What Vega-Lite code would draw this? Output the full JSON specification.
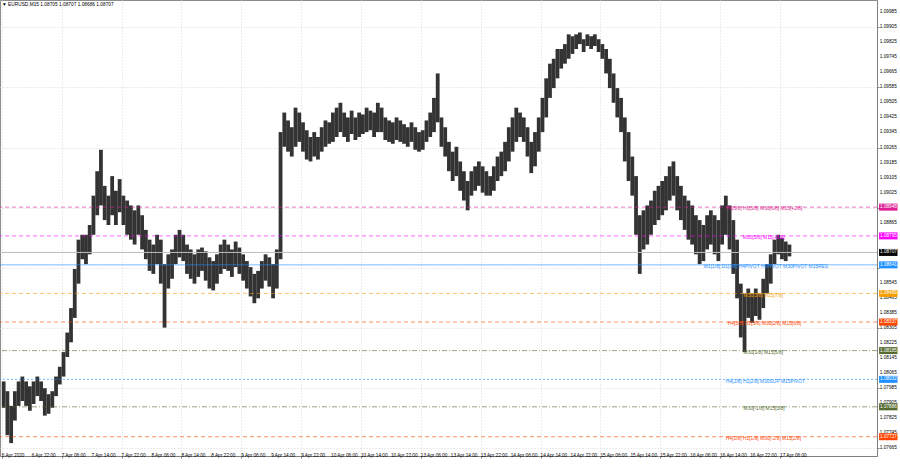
{
"$schema": "https://vega.github.io/schema/vega-lite/v6.json",
"width": 877, "height": 456,
"autosize": {"type": "none"},
"padding": {"left": 0, "top": 0, "right": 23, "bottom": 14},
"background": "#ffffff",
"title": {"text": "▼ EURUSD,M15  1.08705 1.08707 1.08686 1.08707", "anchor": "start", "frame": "group", "fontSize": 4.8, "fontWeight": "normal", "font": "Liberation Sans", "color": "#000000", "offset": 0, "dy": 7, "dx": 2},
"config": {"view": {"stroke": "#8c8c8c", "strokeWidth": 1}, "font": "Liberation Sans"},
"datasets": {
"bars": [
{"n":2,"h":1.08021,"l":1.07881},{"n":6,"h":1.07969,"l":1.07735},{"n":10,"h":1.07891,"l":1.07693},{"n":14,"h":1.07969,"l":1.07813},{"n":18,"h":1.08021,"l":1.07891},{"n":22,"h":1.08047,"l":1.07917},{"n":26,"h":1.08021,"l":1.07891},{"n":30,"h":1.07995,"l":1.07865},{"n":34,"h":1.08021,"l":1.07901},{"n":38,"h":1.08047,"l":1.07943},
{"n":42,"h":1.08021,"l":1.07917},{"n":46,"h":1.07985,"l":1.07839},{"n":50,"h":1.07953,"l":1.07849},{"n":54,"h":1.07969,"l":1.07881},{"n":58,"h":1.08047,"l":1.07943},{"n":62,"h":1.08099,"l":1.08005},{"n":66,"h":1.08177,"l":1.08047},{"n":70,"h":1.08281,"l":1.08151},{"n":74,"h":1.08411,"l":1.08229},{"n":78,"h":1.08619,"l":1.08359},
{"n":82,"h":1.08775,"l":1.08541},{"n":86,"h":1.08801,"l":1.08671},{"n":90,"h":1.08801,"l":1.08645},{"n":94,"h":1.08853,"l":1.08697},{"n":98,"h":1.09009,"l":1.08801},{"n":102,"h":1.09139,"l":1.08905},{"n":106,"h":1.09253,"l":1.08957},{"n":110,"h":1.09061,"l":1.08879},{"n":114,"h":1.09009,"l":1.08853},{"n":118,"h":1.09113,"l":1.08905},
{"n":122,"h":1.09035,"l":1.08853},{"n":126,"h":1.09097,"l":1.08921},{"n":130,"h":1.09009,"l":1.08853},{"n":134,"h":1.08983,"l":1.08801},{"n":138,"h":1.08957,"l":1.08775},{"n":142,"h":1.08931,"l":1.08749},{"n":146,"h":1.08957,"l":1.08801},{"n":150,"h":1.08905,"l":1.08723},{"n":154,"h":1.08827,"l":1.08671},{"n":158,"h":1.08775,"l":1.08609},
{"n":162,"h":1.08749,"l":1.08593},{"n":166,"h":1.08801,"l":1.08645},{"n":170,"h":1.08775,"l":1.08541},{"n":174,"h":1.08645,"l":1.08307},{"n":178,"h":1.08697,"l":1.08515},{"n":182,"h":1.08723,"l":1.08567},{"n":186,"h":1.08801,"l":1.08645},{"n":190,"h":1.08827,"l":1.08681},{"n":194,"h":1.08801,"l":1.08661},{"n":198,"h":1.08749,"l":1.08593},
{"n":202,"h":1.08723,"l":1.08567},{"n":206,"h":1.08697,"l":1.08541},{"n":210,"h":1.08723,"l":1.08577},{"n":214,"h":1.08733,"l":1.08609},{"n":218,"h":1.08713,"l":1.08557},{"n":222,"h":1.08681,"l":1.08515},{"n":226,"h":1.08661,"l":1.08505},{"n":230,"h":1.08697,"l":1.08541},{"n":234,"h":1.08749,"l":1.08593},{"n":238,"h":1.08775,"l":1.08619},
{"n":242,"h":1.08749,"l":1.08609},{"n":246,"h":1.08723,"l":1.08577},{"n":250,"h":1.08765,"l":1.08629},{"n":254,"h":1.08733,"l":1.08593},{"n":258,"h":1.08697,"l":1.08557},{"n":262,"h":1.08661,"l":1.08515},{"n":266,"h":1.08629,"l":1.08473},{"n":270,"h":1.08593,"l":1.08437},{"n":274,"h":1.08609,"l":1.08463},{"n":278,"h":1.08661,"l":1.08515},
{"n":282,"h":1.08697,"l":1.08557},{"n":286,"h":1.08681,"l":1.08525},{"n":290,"h":1.08645,"l":1.08463},{"n":294,"h":1.08723,"l":1.08515},{"n":298,"h":1.09347,"l":1.08671},{"n":302,"h":1.09451,"l":1.09269},{"n":306,"h":1.09409,"l":1.09243},{"n":310,"h":1.09373,"l":1.09217},{"n":314,"h":1.09477,"l":1.09269},{"n":318,"h":1.09451,"l":1.09295},
{"n":322,"h":1.09399,"l":1.09243},{"n":326,"h":1.09357,"l":1.09201},{"n":330,"h":1.09321,"l":1.09191},{"n":334,"h":1.09347,"l":1.09217},{"n":338,"h":1.09321,"l":1.09201},{"n":342,"h":1.09373,"l":1.09243},{"n":346,"h":1.09409,"l":1.09269},{"n":350,"h":1.09399,"l":1.09285},{"n":354,"h":1.09451,"l":1.09295},{"n":358,"h":1.09477,"l":1.09321},
{"n":362,"h":1.09503,"l":1.09347},{"n":366,"h":1.09451,"l":1.09321},{"n":370,"h":1.09425,"l":1.09295},{"n":374,"h":1.09461,"l":1.09337},{"n":378,"h":1.09425,"l":1.09305},{"n":382,"h":1.09451,"l":1.09321},{"n":386,"h":1.09441,"l":1.09337},{"n":390,"h":1.09477,"l":1.09347},{"n":394,"h":1.09461,"l":1.09357},{"n":398,"h":1.09451,"l":1.09321},
{"n":402,"h":1.09503,"l":1.09347},{"n":406,"h":1.09477,"l":1.09347},{"n":410,"h":1.09425,"l":1.09305},{"n":414,"h":1.09409,"l":1.09295},{"n":418,"h":1.09399,"l":1.09285},{"n":422,"h":1.09425,"l":1.09305},{"n":426,"h":1.09409,"l":1.09295},{"n":430,"h":1.09389,"l":1.09285},{"n":434,"h":1.09373,"l":1.09269},{"n":438,"h":1.09399,"l":1.09295},
{"n":442,"h":1.09373,"l":1.09253},{"n":446,"h":1.09347,"l":1.09243},{"n":450,"h":1.09357,"l":1.09253},{"n":454,"h":1.09409,"l":1.09295},{"n":458,"h":1.09451,"l":1.09321},{"n":462,"h":1.09529,"l":1.09347},{"n":466,"h":1.09659,"l":1.09399},{"n":470,"h":1.09425,"l":1.09269},{"n":474,"h":1.09373,"l":1.09217},{"n":478,"h":1.09295,"l":1.09139},
{"n":482,"h":1.09243,"l":1.09087},{"n":486,"h":1.09269,"l":1.09113},{"n":490,"h":1.09191,"l":1.09035},{"n":494,"h":1.09139,"l":1.08983},{"n":498,"h":1.09087,"l":1.08931},{"n":502,"h":1.09139,"l":1.09009},{"n":506,"h":1.09165,"l":1.09035},{"n":510,"h":1.09191,"l":1.09061},{"n":514,"h":1.09165,"l":1.09025},{"n":518,"h":1.09139,"l":1.09009},
{"n":522,"h":1.09113,"l":1.09009},{"n":526,"h":1.09165,"l":1.09035},{"n":530,"h":1.09217,"l":1.09087},{"n":534,"h":1.09243,"l":1.09113},{"n":538,"h":1.09295,"l":1.09139},{"n":542,"h":1.09373,"l":1.09191},{"n":546,"h":1.09425,"l":1.09243},{"n":550,"h":1.09477,"l":1.09295},{"n":554,"h":1.09451,"l":1.09321},{"n":558,"h":1.09425,"l":1.09295},
{"n":562,"h":1.09373,"l":1.09217},{"n":566,"h":1.09295,"l":1.09129},{"n":570,"h":1.09347,"l":1.09165},{"n":574,"h":1.09425,"l":1.09243},{"n":578,"h":1.09529,"l":1.09347},{"n":582,"h":1.09633,"l":1.09425},{"n":586,"h":1.09711,"l":1.09529},{"n":590,"h":1.09737,"l":1.09581},{"n":594,"h":1.09789,"l":1.09633},{"n":598,"h":1.09789,"l":1.09685},
{"n":602,"h":1.09815,"l":1.09711},{"n":606,"h":1.09867,"l":1.09737},{"n":610,"h":1.09857,"l":1.09763},{"n":614,"h":1.09867,"l":1.09789},{"n":618,"h":1.09877,"l":1.09815},{"n":622,"h":1.09841,"l":1.09773},{"n":626,"h":1.09867,"l":1.09805},{"n":630,"h":1.09857,"l":1.09789},{"n":634,"h":1.09867,"l":1.09805},{"n":638,"h":1.09841,"l":1.09773},
{"n":642,"h":1.09815,"l":1.09737},{"n":646,"h":1.09789,"l":1.09659},{"n":650,"h":1.09737,"l":1.09581},{"n":654,"h":1.09659,"l":1.09503},{"n":658,"h":1.09581,"l":1.09425},{"n":662,"h":1.09529,"l":1.09347},{"n":666,"h":1.09425,"l":1.09191},{"n":670,"h":1.09347,"l":1.09087},{"n":674,"h":1.09217,"l":1.09009},{"n":678,"h":1.09113,"l":1.08801},
{"n":682,"h":1.08905,"l":1.08593},{"n":686,"h":1.08931,"l":1.08723},{"n":690,"h":1.08957,"l":1.08749},{"n":694,"h":1.08983,"l":1.08801},{"n":698,"h":1.09035,"l":1.08853},{"n":702,"h":1.09061,"l":1.08879},{"n":706,"h":1.09087,"l":1.08905},{"n":710,"h":1.09113,"l":1.08931},{"n":714,"h":1.09165,"l":1.08983},{"n":718,"h":1.09191,"l":1.09009},
{"n":722,"h":1.09113,"l":1.08931},{"n":726,"h":1.09061,"l":1.08879},{"n":730,"h":1.09009,"l":1.08827},{"n":734,"h":1.08983,"l":1.08775},{"n":738,"h":1.08957,"l":1.08749},{"n":742,"h":1.08905,"l":1.08697},{"n":746,"h":1.08879,"l":1.08645},{"n":750,"h":1.08853,"l":1.08661},{"n":754,"h":1.08905,"l":1.08723},{"n":758,"h":1.08931,"l":1.08749},
{"n":762,"h":1.08905,"l":1.08697},{"n":766,"h":1.08879,"l":1.08661},{"n":770,"h":1.08957,"l":1.08749},{"n":774,"h":1.09009,"l":1.08801},{"n":778,"h":1.08957,"l":1.08723},{"n":782,"h":1.08879,"l":1.08593},{"n":786,"h":1.08775,"l":1.08463},{"n":790,"h":1.08541,"l":1.08255},{"n":794,"h":1.08489,"l":1.08177},{"n":798,"h":1.08515,"l":1.08359},
{"n":802,"h":1.08489,"l":1.08333},{"n":806,"h":1.08515,"l":1.08369},{"n":810,"h":1.08489,"l":1.08349},{"n":814,"h":1.08567,"l":1.08411},{"n":818,"h":1.08645,"l":1.08489},{"n":822,"h":1.08697,"l":1.08541},{"n":826,"h":1.08775,"l":1.08645},{"n":830,"h":1.08801,"l":1.08697},{"n":834,"h":1.08785,"l":1.08671},{"n":838,"h":1.08765,"l":1.08661},
{"n":842,"h":1.08749,"l":1.08686}
],
"levels": [
{"lvl":"L1","p":1.08948,"a":774,"lab":"H4[5/8] H1[5/8] M30[6/8] M15[+2/8]"},
{"lvl":"L2","p":1.08795,"a":792,"lab":"M30[5/8] M15[+1/8]"},
{"lvl":"L3","p":1.08641,"a":750,"lab":"W1[1/8] D1[1/8] H4PIVOT H1PIVOT M30PIVOT M15RES"},
{"lvl":"L4","p":1.08489,"a":793,"lab":"M30[3/8] M15[7/8]"},
{"lvl":"L5","p":1.08337,"a":776,"lab":"H4[3/8] H1[3/8] M30[2/8] M15[6/8]"},
{"lvl":"L6","p":1.08185,"a":793,"lab":"M30[1/8] M15[5/8]"},
{"lvl":"L7","p":1.08032,"a":774,"lab":"H4[2/8] H1[2/8] M30SUP M15PIVOT"},
{"lvl":"L8","p":1.07886,"a":793,"lab":"M30[-1/8] M15[3/8]"},
{"lvl":"L9","p":1.07727,"a":774,"lab":"H4[1/8] H1[1/8] M30[-2/8] M15[2/8]"}
],
"bid": [{"p":1.08707}],
"xt": [
{"n":0,"lab":"6 Apr 2020"},{"n":32,"lab":"6 Apr 22:00"},{"n":64,"lab":"7 Apr 06:00"},{"n":96,"lab":"7 Apr 14:00"},{"n":128,"lab":"7 Apr 22:00"},{"n":160,"lab":"8 Apr 06:00"},{"n":192,"lab":"8 Apr 14:00"},{"n":224,"lab":"8 Apr 22:00"},{"n":256,"lab":"9 Apr 06:00"},{"n":288,"lab":"9 Apr 14:00"},
{"n":320,"lab":"9 Apr 22:00"},{"n":352,"lab":"10 Apr 06:00"},{"n":384,"lab":"10 Apr 14:00"},{"n":416,"lab":"10 Apr 22:00"},{"n":448,"lab":"13 Apr 06:00"},{"n":480,"lab":"13 Apr 14:00"},{"n":512,"lab":"13 Apr 22:00"},{"n":544,"lab":"14 Apr 06:00"},{"n":576,"lab":"14 Apr 14:00"},{"n":608,"lab":"14 Apr 22:00"},
{"n":640,"lab":"15 Apr 06:00"},{"n":672,"lab":"15 Apr 14:00"},{"n":704,"lab":"15 Apr 22:00"},{"n":736,"lab":"16 Apr 06:00"},{"n":768,"lab":"16 Apr 14:00"},{"n":800,"lab":"16 Apr 22:00"},{"n":832,"lab":"17 Apr 06:00"}
],
"yt": [
{"v":1.07665},{"v":1.07745},{"v":1.07825},{"v":1.07905},{"v":1.07985},{"v":1.08065},{"v":1.08145},{"v":1.08225},{"v":1.08305},{"v":1.08385},{"v":1.08465},{"v":1.08545},
{"v":1.08865},{"v":1.09025},{"v":1.09105},{"v":1.09185},{"v":1.09265},{"v":1.09345},{"v":1.09425},{"v":1.09505},{"v":1.09585},{"v":1.09665},{"v":1.09745},{"v":1.09825},{"v":1.09905},{"v":1.09985}
]
},
"layer": [
{"data": {"name": "bars"}, "mark": {"type": "rule", "color": "#333333", "strokeWidth": 3.8},
 "encoding": {
  "x": {"field": "n", "type": "quantitative", "title": null,
   "scale": {"domain": [-1.9, 935.6], "nice": false, "zero": false},
   "axis": {"values": [0,32,64,96,128,160,192,224,256,288,320,352,384,416,448,480,512,544,576,608,640,672,704,736,768,800,832],
    "labels": false, "tickSize": 2, "tickColor": "#808080", "domainColor": "#808080",
    "grid": true, "gridColor": "#d9d9d9", "gridDash": [1, 2]}},
  "y": {"field": "l", "type": "quantitative", "title": null,
   "scale": {"domain": [1.07651, 1.10023], "nice": false, "zero": false},
   "axis": {"orient": "right", "values": [1.07665,1.07745,1.07825,1.07905,1.07985,1.08065,1.08145,1.08225,1.08305,1.08385,1.08465,1.08545,1.08625,1.08705,1.08785,1.08865,1.08945,1.09025,1.09105,1.09185,1.09265,1.09345,1.09425,1.09505,1.09585,1.09665,1.09745,1.09825,1.09905,1.09985],
    "labels": false, "tickSize": 2, "tickColor": "#808080", "domainColor": "#808080",
    "grid": true, "gridColor": "#d9d9d9", "gridDash": [1, 2]}},
  "y2": {"field": "h"}
 }},
{"data": {"name": "xt"}, "mark": {"type": "text", "align": "left", "baseline": "top", "fontSize": 4.7, "color": "#000000", "font": "Liberation Sans"},
 "encoding": {
  "x": {"field": "n", "type": "quantitative", "title": null, "scale": {"domain": [-1.9, 935.6], "nice": false, "zero": false}},
  "y": {"datum": 1.07641, "type": "quantitative", "scale": {"domain": [1.07651, 1.10023], "nice": false, "zero": false}},
  "text": {"field": "lab"}
 }},
{"data": {"name": "yt"}, "mark": {"type": "text", "align": "left", "baseline": "middle", "fontSize": 4.7, "color": "#000000", "font": "Liberation Sans"},
 "encoding": {
  "x": {"datum": 938.6, "type": "quantitative", "scale": {"domain": [-1.9, 935.6], "nice": false, "zero": false}},
  "y": {"field": "v", "type": "quantitative", "title": null, "scale": {"domain": [1.07651, 1.10023], "nice": false, "zero": false}},
  "text": {"field": "v", "type": "quantitative", "format": ".5f"}
 }},
{"data": {"name": "bid"}, "mark": {"type": "rule", "color": "#bdbdbd", "strokeWidth": 1},
 "encoding": {"y": {"field": "p", "type": "quantitative", "title": null, "scale": {"domain": [1.07651, 1.10023], "nice": false, "zero": false}}}},
{"data": {"name": "levels"}, "mark": {"type": "rule", "strokeWidth": 1, "opacity": 0.6},
 "encoding": {
  "y": {"field": "p", "type": "quantitative", "title": null, "scale": {"domain": [1.07651, 1.10023], "nice": false, "zero": false}},
  "color": {"field": "lvl", "type": "nominal", "legend": null, "scale": {"domain": ["L1","L2","L3","L4","L5","L6","L7","L8","L9"], "range": ["#de1f93","#ff00ff","#1e90ff","#f5a000","#ff4500","#556b2f","#1e90ff","#556b2f","#ff4500"]}},
  "strokeDash": {"field": "lvl", "type": "nominal", "legend": null, "scale": {"domain": ["L1","L2","L3","L4","L5","L6","L7","L8","L9"], "range": [[4,3],[4,3],[1,0],[4,3],[4,3],[5,2,1,2],[2,2],[5,2,1,2],[4,3]]}}
 }},
{"data": {"name": "levels"}, "mark": {"type": "text", "align": "left", "baseline": "middle", "dy": 2.2, "fontSize": 4.9, "font": "Liberation Sans"},
 "encoding": {
  "x": {"field": "a", "type": "quantitative", "title": null, "scale": {"domain": [-1.9, 935.6], "nice": false, "zero": false}},
  "y": {"field": "p", "type": "quantitative", "title": null, "scale": {"domain": [1.07651, 1.10023], "nice": false, "zero": false}},
  "text": {"field": "lab"},
  "color": {"field": "lvl", "type": "nominal", "legend": null, "scale": {"domain": ["L1","L2","L3","L4","L5","L6","L7","L8","L9"], "range": ["#de1f93","#ff00ff","#1e90ff","#f5a000","#ff4500","#556b2f","#1e90ff","#556b2f","#ff4500"]}}
 }},
{"data": {"name": "levels"}, "mark": {"type": "bar", "size": 7},
 "encoding": {
  "x": {"datum": 937.8, "type": "quantitative", "scale": {"domain": [-1.9, 935.6], "nice": false, "zero": false}},
  "x2": {"datum": 957.5},
  "y": {"field": "p", "type": "quantitative", "title": null, "scale": {"domain": [1.07651, 1.10023], "nice": false, "zero": false}},
  "color": {"field": "lvl", "type": "nominal", "legend": null, "scale": {"domain": ["L1","L2","L3","L4","L5","L6","L7","L8","L9"], "range": ["#de1f93","#ff00ff","#1e90ff","#f5a000","#ff4500","#556b2f","#1e90ff","#556b2f","#ff4500"]}}
 }},
{"data": {"name": "bid"}, "mark": {"type": "bar", "size": 7, "color": "#000000"},
 "encoding": {
  "x": {"datum": 937.8, "type": "quantitative", "scale": {"domain": [-1.9, 935.6], "nice": false, "zero": false}},
  "x2": {"datum": 957.5},
  "y": {"field": "p", "type": "quantitative", "title": null, "scale": {"domain": [1.07651, 1.10023], "nice": false, "zero": false}}
 }},
{"data": {"name": "levels"}, "mark": {"type": "text", "align": "left", "baseline": "middle", "fontSize": 4.7, "color": "#ffffff", "font": "Liberation Sans"},
 "encoding": {
  "x": {"datum": 938.8, "type": "quantitative", "scale": {"domain": [-1.9, 935.6], "nice": false, "zero": false}},
  "y": {"field": "p", "type": "quantitative", "title": null, "scale": {"domain": [1.07651, 1.10023], "nice": false, "zero": false}},
  "text": {"field": "p", "type": "quantitative", "format": ".5f"}
 }},
{"data": {"name": "bid"}, "mark": {"type": "text", "align": "left", "baseline": "middle", "fontSize": 4.7, "color": "#ffffff", "font": "Liberation Sans"},
 "encoding": {
  "x": {"datum": 938.8, "type": "quantitative", "scale": {"domain": [-1.9, 935.6], "nice": false, "zero": false}},
  "y": {"field": "p", "type": "quantitative", "title": null, "scale": {"domain": [1.07651, 1.10023], "nice": false, "zero": false}},
  "text": {"field": "p", "type": "quantitative", "format": ".5f"}
 }}
]
}
